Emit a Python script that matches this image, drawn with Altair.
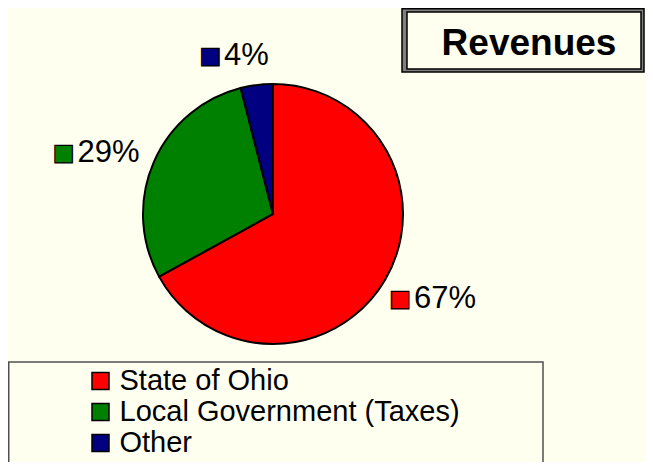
import math
import altair as alt
import pandas as pd

# ---- data ----
categories = ["State of Ohio", "Local Government (Taxes)", "Other"]
values = [67, 29, 4]
labels = ["67%", "29%", "4%"]
colors = ["#FF0000", "#008000", "#000080"]
title_text = "Revenues"

df = pd.DataFrame({
    "category": categories,
    "value": values,
    "label": labels,
    "idx": list(range(len(categories))),
})
one = pd.DataFrame({"k": [0]})

BG = "#FFFFF0"
FONT = "Liberation Sans"
CX, CY, R = 265, 206, 130
W, H = 637, 454
TOTAL = sum(values)

color_scale = alt.Scale(domain=categories, range=colors)

# legend frame
legend_box = alt.Chart(one).mark_rect(fill=BG, stroke="#505050", strokeWidth=1.5).encode(
    x=alt.value(0.75), x2=alt.value(535), y=alt.value(354), y2=alt.value(475)
)

# title box
title_outer = alt.Chart(one).mark_rect(fill="#808080", stroke="#000000", strokeWidth=1.5).encode(
    x=alt.value(394), x2=alt.value(636), y=alt.value(0.75), y2=alt.value(64)
)
title_inner = alt.Chart(one).mark_rect(fill=BG, stroke="#000000", strokeWidth=1.5).encode(
    x=alt.value(399), x2=alt.value(633), y=alt.value(4), y2=alt.value(61)
)
title_label = alt.Chart(one).mark_text(
    text=title_text, font=FONT, fontSize=37, fontWeight="bold", color="black",
    align="center", baseline="alphabetic"
).encode(x=alt.value(521), y=alt.value(47))

pie = alt.Chart(df).mark_arc(stroke="black", strokeWidth=2, radius=R).encode(
    theta=alt.Theta("value:Q", stack=True),
    color=alt.Color(
        "category:N", scale=color_scale, sort=categories,
        legend=alt.Legend(
            title=None, orient="none", legendX=78, legendY=358.5,
            symbolType="square", symbolSize=289, symbolStrokeColor="black",
            symbolStrokeWidth=1.5,
            labelFont=FONT, labelFontSize=29, labelColor="black",
            labelOffset=4.5, rowPadding=1, labelLimit=500,
        ),
    ),
    order=alt.Order("idx:Q"),
    x=alt.value(CX), y=alt.value(CY),
)

lab_base = alt.Chart(df).transform_window(
    cum="sum(value)", sort=[alt.SortField("idx")], frame=[None, 0]
).transform_calculate(mid="datum.cum - datum.value / 2")

theta_mid = alt.Theta("mid:Q", stack=False,
                      scale=alt.Scale(domain=[0, TOTAL], range=[0, 2 * math.pi]))

# per-slice label offsets (text dx, square dx, dy)
offsets = {
    "State of Ohio": (30, -15, 1.5),
    "Local Government (Taxes)": (-13, -58, 5),
    "Other": (-6, -42, 6),
}

label_layers = []
for cat, (tdx, sdx, ddy) in offsets.items():
    b = lab_base.transform_filter(alt.datum.category == cat)
    sq = b.mark_text(
        text="\u25A0", font="DejaVu Sans", fontSize=23, stroke="black", strokeWidth=1.2,
        radius=165, dx=sdx, dy=ddy, align="center", baseline="middle"
    ).encode(
        theta=theta_mid, x=alt.value(CX), y=alt.value(CY),
        color=alt.Color("category:N", scale=color_scale, legend=None),
    )
    tx = b.mark_text(
        font=FONT, fontSize=31, color="black", radius=165, dx=tdx, dy=ddy,
        align="center", baseline="middle"
    ).encode(
        theta=theta_mid, x=alt.value(CX), y=alt.value(CY), text="label:N",
    )
    label_layers += [sq, tx]

chart = alt.layer(
    legend_box, title_outer, title_inner, title_label, pie, *label_layers
).properties(
    width=W, height=H, padding=0, background=BG,
    autosize=alt.AutoSizeParams(type="none"),
).configure_view(strokeWidth=0).resolve_scale(color="shared")

chart.save("out.html", embed_options={"renderer": "svg", "actions": False})
